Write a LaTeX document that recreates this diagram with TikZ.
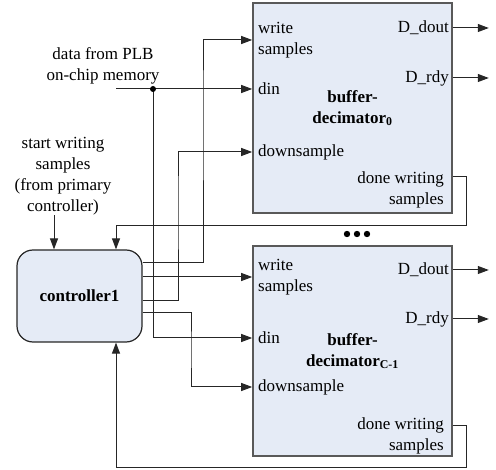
\documentclass[tikz,border=0pt]{standalone}
\usepackage{fontspec}
\setmainfont{Liberation Serif}
\usetikzlibrary{arrows.meta}
\definecolor{boxfill}{RGB}{229,235,246}
\begin{document}
\begin{tikzpicture}[x=1pt,y=-1pt,
  every node/.style={font=\fontsize{17}{21}\selectfont, inner sep=0pt},
  block/.style={draw=black!65, line width=1.6pt, fill=boxfill,
    minimum width=199pt, minimum height=210pt, align=center,
    font=\fontsize{17}{21}\selectfont\bfseries},
  ctrl/.style={draw=black!85, line width=1.2pt, fill=boxfill, rounded corners=16pt,
    minimum width=125pt, minimum height=92pt,
    font=\fontsize{17}{21}\selectfont\bfseries},
  wire/.style={line width=1pt, black!85},
  sig/.style={wire, -{Triangle[length=11pt,width=8pt]}},
  inport/.style={anchor=west, align=left},
  outport/.style={anchor=east, align=right},
  dot/.style={fill=black, draw=none}]

\useasboundingbox (0,0) rectangle (496,470);

% blocks
\node[block] (b0) at (352.5,108) {buffer-\\decimator\textsubscript{0}};
\node[block] (b1) at (352.5,351) {buffer-\\decimator\textsubscript{C-1}};
\node[ctrl] (ctl) at (79.5,296) {controller1};

% port labels, upper block
\node[inport] (b0wl) at (258,40) {write\\samples};
\node[inport] (b0dl) at (258,89) {din};
\node[inport] (b0sl) at (258,152) {downsample};
\node[outport] (b0ol) at (449,28) {D\_dout};
\node[outport] (b0rl) at (449,78) {D\_rdy};
\node[outport] (b0fl) at (444,190) {done writing\\samples};

% port labels, lower block
\node[inport] (b1wl) at (258,277) {write\\samples};
\node[inport] (b1dl) at (258,338) {din};
\node[inport] (b1sl) at (258,387) {downsample};
\node[outport] (b1ol) at (449,270) {D\_dout};
\node[outport] (b1rl) at (449,319) {D\_rdy};
\node[outport] (b1fl) at (444,436) {done writing\\samples};

% external inputs
\node[align=center] (plb) at (103,66) {data from PLB\\on-chip memory};
\node[align=center] (start) at (63,176) {start writing\\samples\\(from primary\\controller)};

% port points
\coordinate (b0w) at (b0.west |- 0,40);
\coordinate (b0d) at (b0.west |- 0,89);
\coordinate (b0s) at (b0.west |- 0,152);
\coordinate (b1w) at (b1.west |- 0,277);
\coordinate (b1d) at (b1.west |- 0,338);
\coordinate (b1s) at (b1.west |- 0,387);
\coordinate (b0o) at (b0.east |- 0,28);
\coordinate (b0r) at (b0.east |- 0,78);
\coordinate (b0f) at (b0.east |- 0,177);
\coordinate (b1o) at (b1.east |- 0,270);
\coordinate (b1r) at (b1.east |- 0,319);
\coordinate (b1f) at (b1.east |- 0,426);
\coordinate (c1) at (ctl.east |- 0,263);
\coordinate (c2) at (ctl.east |- 0,277);
\coordinate (c3) at (ctl.east |- 0,301);
\coordinate (c4) at (ctl.east |- 0,313);
\coordinate (ctop) at (ctl.north -| 116,0);
\coordinate (cbot) at (ctl.south -| 116,0);
\coordinate (cstart) at (ctl.north -| 54,0);
\coordinate (plbin) at (116,89);
\coordinate (tap) at (153,89);

% data input and its branch to the lower block
\draw[sig] (plbin) -- (b0d);
\draw[sig] (tap) |- (b1d);
\fill[dot] (tap) circle (3pt);

% controller outputs
\draw[sig] (c1) -| (203,100) |- (b0w);
\draw[sig] (c2) -- (b1w);
\draw[sig] (c3) -| (178,200) |- (b0s);
\draw[sig] (c4) -| (191,350) |- (b1s);

% start input
\draw[sig] (start.south -| cstart) -- (cstart);

% done-writing feedback
\draw[sig] (b0f) -| (466,226) -| (ctop);
\draw[sig] (b1f) -| (466,468) -| (cbot);

% block outputs
\draw[sig] (b0o) -- ++(36,0);
\draw[sig] (b0r) -- ++(36,0);
\draw[sig] (b1o) -- ++(36,0);
\draw[sig] (b1r) -- ++(36,0);

% ellipsis between blocks
\foreach \i/\x in {1/347,2/357,3/367}
  \fill[dot] (\x,234) circle (3.2pt);
\end{tikzpicture}
\end{document}
